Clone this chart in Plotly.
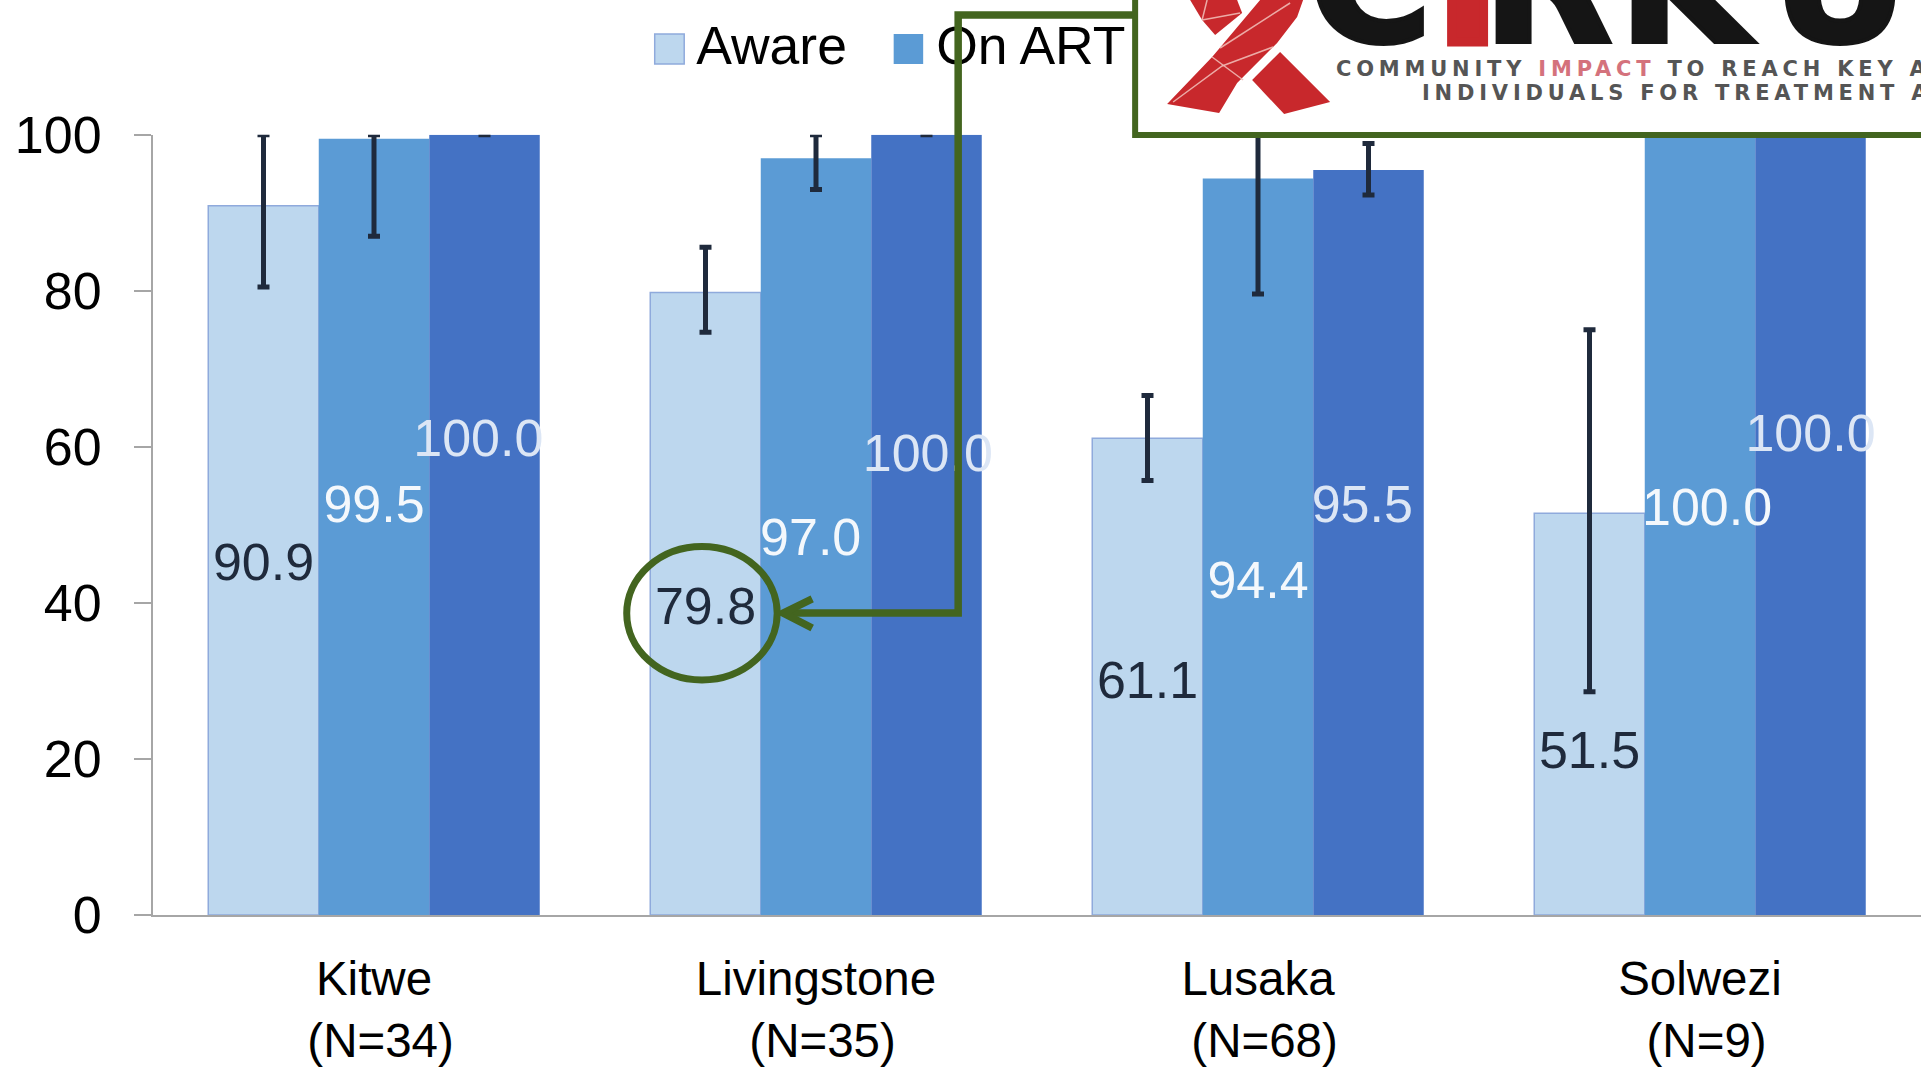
import plotly.graph_objects as go

# ---- data ----
categories = ["Kitwe", "Livingstone", "Lusaka", "Solwezi"]
tick_labels = ["Kitwe<br>\u00a0(N=34)", "Livingstone<br>\u00a0(N=35)", "Lusaka<br>\u00a0(N=68)", "Solwezi<br>\u00a0(N=9)"]
aware = [90.9, 79.8, 61.1, 51.5]
on_art = [99.5, 97.0, 94.4, 100.0]
third = [100.0, 100.0, 95.5, 100.0]
aware_hi = [100, 85.6, 66.6, 75]
aware_lo = [80.5, 74.7, 55.7, 28.6]
art_hi = [100, 100, 100, 100]
art_lo = [87, 93, 79.6, 100]
third_hi = [100, 100, 98.9, 100]
third_lo = [100, 100, 92.3, 100]
# heights at which the value labels sit in the picture
aware_label_y = [44.6, 38.9, 29.5, 20.5]
art_label_y = [52.1, 47.8, 42.3, 51.7]
third_label_y = [60.5, 58.6, 52.1, 61.2]
# small horizontal nudges of labels from bar centres (category units)
aware_label_dx = [0, 0, 0, 0]
art_label_dx = [0, -0.012, 0, 0.016]
third_label_dx = [-0.014, 0.003, -0.014, 0]
legend_names = ["Aware", "On ART"]

W, H = 1921, 1073
L, R, T, B = 152.7, 1921, 134.8, 915.0
def px(x): return (x - L) / (R - L)
def py(y): return (B - y) / B

GREEN = "#43651f"
RED = "#c8282c"
ERR = "#1f2a3c"
BLACK = "#151515"
BAR_W = 0.25
xs = list(range(len(categories)))

def errs(hi, lo, v):
    return dict(type="data", symmetric=False,
                array=[h - a for h, a in zip(hi, v)],
                arrayminus=[a - l for a, l in zip(v, lo)],
                color=ERR, thickness=5, width=6)

fig = go.Figure()
fig.add_bar(name="Aware", x=xs, y=aware, marker=dict(color="#bdd7ee", line=dict(color="#8faadc", width=1.5)),
            error_y=errs(aware_hi, aware_lo, aware), cliponaxis=False)
fig.add_bar(name="On ART", x=xs, y=on_art, marker=dict(color="#5b9bd5", line=dict(width=0)),
            error_y=errs(art_hi, art_lo, on_art), cliponaxis=False)
fig.add_bar(name="Suppressed", x=xs, y=third, marker=dict(color="#4472c4", line=dict(width=0)),
            error_y=errs(third_hi, third_lo, third), cliponaxis=False)

def labels(vals, ys, dxs, off, color):
    fig.add_scatter(x=[i + off + d for i, d in zip(xs, dxs)], y=ys, mode="text",
                    text=[f"{v:.1f}" for v in vals], textposition="middle center",
                    textfont=dict(family="Liberation Sans", size=52, color=color),
                    showlegend=False, hoverinfo="skip", cliponaxis=False)

labels(aware, aware_label_y, aware_label_dx, -BAR_W, "#1f2a3c")
labels(on_art, art_label_y, art_label_dx, 0, "#f4f8fc")
labels(third, third_label_y, third_label_dx, BAR_W, "#dce6f5")

# legend text, in a hidden strip above the plot whose axes count page pixels
# (so that it stays beneath the call-out line, as in the picture)
fig.add_scatter(x=[696, 936], y=[51, 51], mode="text", xaxis="x2", yaxis="y2",
                text=legend_names, textposition="middle right",
                textfont=dict(family="Liberation Sans", size=53.5, color="#000000"),
                showlegend=False, hoverinfo="skip", cliponaxis=False)

shapes = []
def rect(x0, y0, x1, y1, fill, line=None, lw=0):
    shapes.append(dict(type="rect", xref="paper", yref="paper", x0=px(x0), x1=px(x1), y0=py(y0), y1=py(y1),
                       fillcolor=fill, line=dict(color=line or fill, width=lw), layer="above"))
def path(pts, color=None, lw=0, fill=None, close=False):
    d = "M" + " L".join(f"{px(x):.5f},{py(y):.5f}" for x, y in pts) + (" Z" if close else "")
    shapes.append(dict(type="path", xref="paper", yref="paper", path=d, layer="above",
                       fillcolor=fill or "rgba(0,0,0,0)",
                       line=dict(color=color or "rgba(0,0,0,0)", width=lw)))

# legend swatches
rect(654.5, 34, 684, 64, "#bdd7ee", "#8faadc", 1.5)
rect(893.5, 34, 923, 64, "#5b9bd5")

# call-out arrow and ellipse
path([(1135, 15), (958, 15), (958, 613), (783, 613)], GREEN, 7.5)
path([(812, 599), (783, 613), (812, 628)], GREEN, 7.5)
shapes.append(dict(type="circle", xref="paper", yref="paper", x0=px(626.5), x1=px(777), y0=py(546.5), y1=py(680),
                   line=dict(color=GREEN, width=7), layer="above"))

# logo panel
rect(1135, -20, 1940, 135, "#ffffff", GREEN, 6)

# ribbon
path([(1167, 104), (1219, 113), (1237, 83), (1277, 43), (1297, 17), (1303, 0), (1260, 0), (1212, 57)], fill=RED, close=True)
path([(1190, 0), (1237, 0), (1242, 13), (1215, 35), (1202, 20)], fill=RED, close=True)
path([(1280, 52), (1330, 102), (1284, 114), (1252, 80)], fill=RED, close=True)
for seg in [[(1173, 102), (1222, 66), (1273, 47)], [(1212, 57), (1243, 80)], [(1220, 48), (1290, 3)],
            [(1202, 20), (1240, 13)], [(1207, 0), (1202, 20)]]:
    path(seg, "rgba(240,185,180,0.9)", 1.5)

ann = []
letters = [("C", 1307, BLACK), ("I", 1435, RED), ("R", 1481, BLACK), ("K", 1617, BLACK), ("U", 1770, BLACK)]
for ch, x0, col in letters:
    ann.append(dict(text=f"<b>{ch}</b>", xref="paper", yref="paper", x=px(x0), y=py(83), xanchor="left", yanchor="bottom",
                    showarrow=False, font=dict(family="DejaVu Sans", size=170, color=col), borderpad=0))
for txt, x0, y0 in [('COMMUNITY <span style="color:#d4727c">IMPACT</span> TO REACH KEY AND UNDERSERVED', 1335, 69),
                    ("INDIVIDUALS FOR TREATMENT AND TESTING", 1421, 93)]:
    ann.append(dict(text=f"<b>{txt}</b>", xref="paper", yref="paper", x=px(x0), y=py(y0), xanchor="left", yanchor="middle",
                    showarrow=False, font=dict(family="DejaVu Sans", size=21, color="#555555"), borderpad=0))

fig.update_layout(
    width=W, height=H, autosize=False,
    margin=dict(l=L, r=W - R, t=0, b=H - B, pad=0, autoexpand=False),
    paper_bgcolor="#ffffff", plot_bgcolor="#ffffff",
    barmode="group", bargap=0.25, bargroupgap=0, showlegend=False,
    shapes=shapes, annotations=ann,
    font=dict(family="Liberation Sans", color="#000000"),
    xaxis=dict(range=[-0.5, 3.5], tickmode="array", tickvals=xs, ticktext=tick_labels,
               tickfont=dict(size=47.5, color="#000000"), ticks="", showgrid=False, zeroline=False,
               showline=True, linecolor="#a6a6a6", linewidth=2, fixedrange=True, ticklabelstandoff=21,
               anchor="y", domain=[0, 1]),
    yaxis=dict(range=[0, 100], tickmode="array", tickvals=[0, 20, 40, 60, 80, 100],
               tickfont=dict(size=52, color="#000000"), ticks="outside", ticklen=17, tickwidth=2,
               tickcolor="#a6a6a6", showgrid=False, zeroline=False, showline=True, linecolor="#a6a6a6",
               linewidth=2, fixedrange=True, ticklabelstandoff=22, anchor="x", domain=[0, (B - T) / B]),
    xaxis2=dict(range=[L, R], domain=[0, 1], anchor="y2", visible=False, fixedrange=True),
    yaxis2=dict(range=[T, 0], domain=[(B - T) / B, 1], anchor="x2", visible=False, fixedrange=True),
)
post = """
document.body.style.margin='0';document.documentElement.style.overflow='hidden';
document.querySelectorAll('.annotation-text').forEach(function(t){
  var s=t.textContent;
  if(s.length===1){t.style.stroke=t.style.fill||'#151515';t.style.strokeWidth=(s==='I'?'9px':'4px');}
  else{var a=t.getBBox().x;t.style.letterSpacing='4.8px';var b=t.getBBox().x;
    var old=t.getAttribute('transform')||'';t.setAttribute('transform',old+' translate('+(a-b)+',0)');}
});
"""
fig.write_html("out.html", config=dict(displayModeBar=False), post_script=post)
